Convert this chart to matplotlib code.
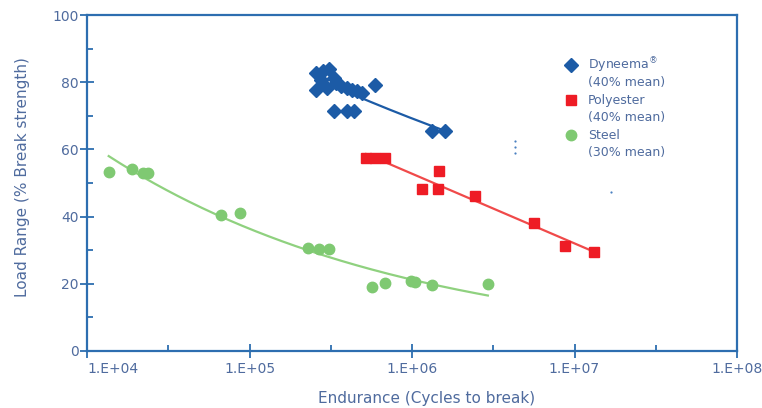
import numpy as np
import matplotlib
matplotlib.use("Agg")
import matplotlib.pyplot as plt
from matplotlib.ticker import FixedLocator, FixedFormatter

# Fatigue test results: cycles to break vs. load range
dyneema_cycles = [2.58e5, 2.85e5, 3.10e5, 2.77e5, 2.58e5, 3.01e5, 3.32e5, 3.42e5,
                  3.67e5, 3.99e5, 4.29e5, 4.60e5, 4.93e5, 5.93e5, 3.32e5, 3.99e5,
                  4.41e5, 1.33e6, 1.59e6]
dyneema_load = [82.7, 83.3, 83.9, 80.7, 77.7, 78.3, 81.3, 79.8, 78.9, 78.3, 77.7,
                77.4, 76.8, 79.2, 71.4, 71.4, 71.4, 65.5, 65.5]

polyester_cycles = [5.22e5, 5.93e5, 6.83e5, 1.46e6, 1.16e6, 1.44e6, 2.43e6,
                    5.60e6, 8.68e6, 1.32e7]
polyester_load = [57.3, 57.3, 57.3, 53.7, 48.3, 48.3, 46.1, 38.2, 31.3, 29.6]

steel_cycles = [1.36e4, 1.88e4, 2.21e4, 2.38e4, 6.70e4, 8.77e4, 2.28e5, 2.66e5,
                3.10e5, 5.71e5, 6.80e5, 9.82e5, 1.05e6, 1.33e6, 2.93e6]
steel_load = [53.3, 54.3, 53.1, 53.1, 40.6, 41.1, 30.6, 30.3, 30.3, 19.1, 20.3,
              20.9, 20.4, 19.6, 19.9]

series_names = [r"Dyneema$^{\circledR}$", "Polyester", "Steel"]
series_notes = ["(40% mean)", "(40% mean)", "(30% mean)"]

x_ticks = [1e4, 1e5, 1e6, 1e7, 1e8]
x_tick_labels = ["1.E+04", "1.E+05", "1.E+06", "1.E+07", "1.E+08"]
y_ticks = [0, 20, 40, 60, 80, 100]

# small stray dots printed inside the plot area
specks_cycles = [4.28e6, 4.28e6, 4.28e6, 1.67e7]
specks_load = [62.5, 60.8, 59.0, 47.2]

AXIS = "#2d6eb0"
TEXT = "#4f6b9e"
BLUE = "#1c5ba6"
RED = "#ee1c25"
RED_LINE = "#f04a4a"
GREEN = "#7fc972"
GREEN_LINE = "#8fd17f"

plt.rcParams["font.family"] = ["DejaVu Sans"]
plt.rcParams["mathtext.fontset"] = "dejavusans"

W, H = 762, 408
fig = plt.figure(figsize=(W / 100, H / 100), dpi=100)
ax = fig.add_axes([87 / W, 1 - 351 / H, (737 - 87) / W, (351 - 15) / H])
ax.set_xscale("log")
ax.set_xlim(1e4, 1e8)
ax.set_ylim(0, 100)


def trend(cycles, load, kind):
    """Least-squares trendline over the data range: 'power' or 'log'."""
    lx = np.log10(np.asarray(cycles))
    y = np.asarray(load)
    xs = np.logspace(lx.min(), lx.max(), 200)
    if kind == "power":
        b, a = np.polyfit(lx, np.log10(y), 1)
        return xs, 10 ** (a + b * np.log10(xs))
    b, a = np.polyfit(lx, y, 1)
    return xs, a + b * np.log10(xs)


for cyc, load, col, kind in [(dyneema_cycles, dyneema_load, BLUE, "power"),
                             (polyester_cycles, polyester_load, RED_LINE, "log"),
                             (steel_cycles, steel_load, GREEN_LINE, "power")]:
    xs, ys = trend(cyc, load, kind)
    ax.plot(xs, ys, color=col, lw=1.6, zorder=2)

styles = [dict(marker="D", ms=7, color=BLUE),
          dict(marker="s", ms=6.8, color=RED),
          dict(marker="o", ms=7.5, color=GREEN)]

for cyc, load, st in zip([dyneema_cycles, polyester_cycles, steel_cycles],
                         [dyneema_load, polyester_load, steel_load], styles):
    ax.plot(cyc, load, ls="none", mec=st["color"], zorder=3, **st)

ax.plot(specks_cycles, specks_load, ls="none", marker="o", ms=1.6, color="#4a80c0",
        mec="none", zorder=3)

# axis frame and ticks
for s in ax.spines.values():
    s.set_color(AXIS)
    s.set_linewidth(1.6)

ax.xaxis.set_major_locator(FixedLocator(x_ticks))
ax.xaxis.set_major_formatter(FixedFormatter(x_tick_labels))
ax.xaxis.set_minor_locator(FixedLocator([10 ** (k + 0.5) for k in range(4, 8)]))
ax.xaxis.set_minor_formatter(FixedFormatter([]))
ax.yaxis.set_major_locator(FixedLocator(y_ticks))
ax.yaxis.set_minor_locator(FixedLocator([10, 30, 50, 70, 90]))

ax.tick_params(axis="both", which="major", direction="inout", length=10, width=1.3,
               color=AXIS, labelcolor=TEXT, labelsize=10)
ax.tick_params(axis="both", which="minor", direction="in", length=4, width=1.3,
               color=AXIS)
ax.tick_params(axis="x", which="major", pad=3)
ax.tick_params(axis="y", which="major", pad=1)

# first category label sits flush with the left edge of the plot
first = ax.xaxis.get_major_ticks()[0].label1
first.set_horizontalalignment("left")

fig.text(427 / W, 1 - 398 / H, "Endurance (Cycles to break)", color=TEXT,
         fontsize=11, ha="center", va="center")
fig.text(23 / W, 1 - 177 / H, "Load Range (% Break strength)", color=TEXT,
         fontsize=11, ha="center", va="center", rotation=90)

# legend: marker beside the series name, note on the following line
mark_x = (571 - 87) / 650
text_x = (588 - 87) / 650
row_px = [65, 100, 135]
for st, name, note, py in zip(styles, series_names, series_notes, row_px):
    yy = (351 - py) / 336
    ax.plot([mark_x], [yy], transform=ax.transAxes, ls="none", clip_on=False,
            mec=st["color"], **st)
    ax.text(text_x, yy, name, transform=ax.transAxes, color=TEXT, fontsize=9,
            ha="left", va="center")
    ax.text(text_x, yy - 17.5 / 336, note, transform=ax.transAxes, color=TEXT,
            fontsize=9, ha="left", va="center")

fig.savefig("out.png", dpi=100)
